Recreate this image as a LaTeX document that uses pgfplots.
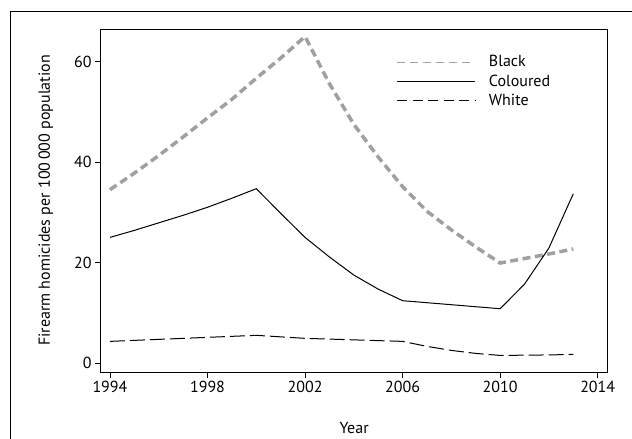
\documentclass[border=0pt]{standalone}
\usepackage{pgfplots}
\pgfplotsset{compat=1.18}
\usepackage{fontspec}
\setmainfont{PT Sans}
\definecolor{blackgrp}{RGB}{160,160,160}

\begin{document}
\begin{tikzpicture}
\useasboundingbox (-100.7pt,-67pt) rectangle (531.3pt,372pt);
% page frame
\draw[line width=0.8pt] (-90.7pt,-67pt) -- (-90.7pt,361pt) -- (531.3pt,361pt);
\begin{axis}[
    width=507pt,
    height=343pt,
    scale only axis,
    xmin=1993.62, xmax=2014.41,
    ymin=-1.8, ymax=66.5,
    xtick={1994,1998,2002,2006,2010,2014},
    ytick={0,20,40,60},
    tick align=outside,
    tick pos=left,
    major tick length=5.5pt,
    axis line style={line width=0.9pt},
    tick style={line width=0.8pt, black},
    font=\fontsize{16}{19}\selectfont,
    ticklabel style={font=\fontsize{16}{19}\selectfont},
    /pgf/number format/assume math mode=true,
    x tick label style={/pgf/number format/1000 sep={}},
    xlabel={Year},
    ylabel={Firearm homicides per 100\,000 population},
    xlabel style={at={(axis description cs:0.5,-0.163)}, anchor=center},
    ylabel style={at={(axis description cs:-0.1085,0.5)}, anchor=center},
    legend style={
        at={(axis description cs:0.584,0.923)},
        anchor=north west,
        draw=none, fill=none,
        font=\fontsize{16}{19}\selectfont,
        row sep=6.5pt,
        inner sep=0pt,
        nodes={inner xsep=0pt, inner ysep=0pt},
        /tikz/every odd column/.append style={column sep=13pt},
    },
    legend cell align=left,
    legend image code/.code={\draw[#1] (0pt,0pt) -- (78pt,0pt);},
]

% Black
\addplot[blackgrp, line width=3.5pt, dash pattern=on 8pt off 4.5pt, forget plot] coordinates {
    (1994,34.5) (1995,37.8) (1996,41.3) (1997,45.0) (1998,48.8)
    (1999,52.5) (2000,56.7) (2001,60.7) (2002,65.0) (2003,55.6)
    (2004,47.5) (2005,41.0) (2006,35.1) (2007,30.2) (2008,26.5)
    (2009,23.1) (2010,19.9) (2011,20.8) (2012,21.7) (2013,22.7)
};

% Coloured
\addplot[black, line width=1pt, forget plot] coordinates {
    (1994,25.0) (1995,26.4) (1996,27.9) (1997,29.4) (1998,31.0)
    (1999,32.8) (2000,34.7) (2001,29.8) (2002,25.0) (2003,21.1)
    (2004,17.5) (2005,14.7) (2006,12.4) (2010,10.8) (2011,15.7)
    (2012,22.9) (2013,33.7)
};

% White
\addplot[black, line width=1pt, dash pattern=on 15pt off 5pt, forget plot] coordinates {
    (1994,4.3) (1996,4.7) (1998,5.1) (2000,5.5) (2002,4.9)
    (2004,4.6) (2006,4.3) (2007,3.3) (2008,2.5) (2009,1.9)
    (2010,1.5) (2011,1.55) (2012,1.6) (2013,1.7)
};

\addlegendimage{blackgrp, line width=1pt, dash pattern=on 8pt off 5pt}
\addlegendentry{Black}
\addlegendimage{black, line width=1pt}
\addlegendentry{Coloured}
\addlegendimage{black, line width=1pt, dash pattern=on 10pt off 5.5pt}
\addlegendentry{White}

\end{axis}
\end{tikzpicture}
\end{document}
